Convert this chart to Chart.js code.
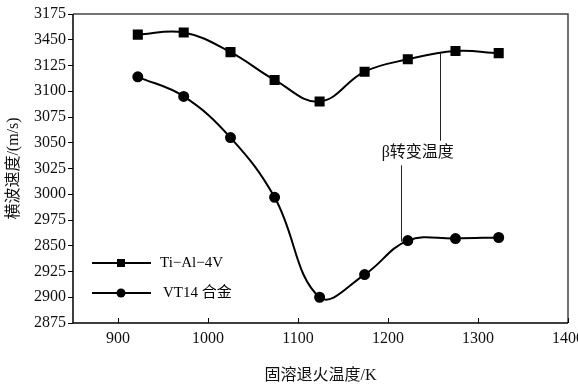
<!DOCTYPE html>
<html>
<head>
<meta charset="utf-8">
<script src="https://cdn.jsdelivr.net/npm/chart.js@4.4.1/dist/chart.umd.min.js"></script>
<style>
  html, body { margin: 0; padding: 0; background: #fff; overflow: hidden; }
  #wrap { width: 590px; height: 389px; position: relative; }
</style>
</head>
<body>
<div id="wrap"><canvas id="chart"></canvas></div>
<script>
// data
const temps = [922, 973, 1025, 1074, 1124, 1174, 1222, 1275, 1323];
const tiAl4V = [3155, 3157, 3138, 3111, 3090, 3119, 3131, 3139, 3137];
const vt14 = [3114, 3095, 3055, 2997, 2900, 2922, 2955, 2957, 2958];
const xTicks = [900, 1000, 1100, 1200, 1300, 1400];
const yTicks = [3175, 3150, 3125, 3100, 3075, 3050, 3025, 3000, 2975, 2950, 2925, 2900, 2875];
// tick text as printed in the original figure
const yTickText = ['3175', '3450', '3125', '3100', '3075', '3050', '3025', '3000', '2975', '2850', '2925', '2900', '2875'];
const seriesNames = ['Ti\u2212Al\u22124V', 'VT14 合金'];

const serif = "'Liberation Serif', 'Noto Sans CJK SC', serif";

// frame, inward x ticks, legend and the beta note
const extras = {
  id: 'extras',
  afterDraw(chart) {
    const ctx = chart.ctx;
    const a = chart.chartArea;
    const xs = chart.scales.x, ys = chart.scales.y;
    ctx.save();
    // top/right frame
    ctx.strokeStyle = '#444';
    ctx.lineWidth = 1.5;
    ctx.beginPath();
    ctx.moveTo(a.left, a.top); ctx.lineTo(a.right, a.top); ctx.lineTo(a.right, a.bottom);
    ctx.stroke();
    // left/bottom axes
    ctx.strokeStyle = '#000';
    ctx.lineWidth = 1.5;
    ctx.beginPath();
    ctx.moveTo(a.left, a.top); ctx.lineTo(a.left, a.bottom); ctx.lineTo(a.right, a.bottom);
    ctx.stroke();
    // x ticks pointing inward
    ctx.lineWidth = 1;
    xTicks.forEach(v => {
      const px = Math.round(xs.getPixelForValue(v)) + 0.5;
      ctx.beginPath(); ctx.moveTo(px, a.bottom); ctx.lineTo(px, a.bottom - 5); ctx.stroke();
    });

    // legend
    chart.data.datasets.forEach((ds, i) => {
      const y = 263 + i * 30;
      ctx.strokeStyle = '#000';
      ctx.lineWidth = 2;
      ctx.beginPath(); ctx.moveTo(92, y); ctx.lineTo(151, y); ctx.stroke();
      ctx.fillStyle = '#000';
      if (ds.pointStyle === 'rect') {
        ctx.fillRect(121 - 4, y - 4, 8, 8);
      } else {
        ctx.beginPath(); ctx.arc(121, y, 4.5, 0, Math.PI * 2); ctx.fill();
      }
      ctx.font = "15px " + serif;
      ctx.textBaseline = 'middle';
      ctx.textAlign = 'left';
      ctx.fillText(ds.label, 160 + i * 3, y);
    });

    // beta transus note
    ctx.strokeStyle = '#222';
    ctx.lineWidth = 1;
    const x1 = Math.round(xs.getPixelForValue(1258)) + 0.5;
    ctx.beginPath(); ctx.moveTo(x1, ys.getPixelForValue(3137)); ctx.lineTo(x1, ys.getPixelForValue(3052)); ctx.stroke();
    const x2 = Math.round(xs.getPixelForValue(1214)) + 0.5;
    ctx.beginPath(); ctx.moveTo(x2, ys.getPixelForValue(3028)); ctx.lineTo(x2, ys.getPixelForValue(2954)); ctx.stroke();
    ctx.fillStyle = '#111';
    ctx.font = "16px " + serif;
    ctx.textAlign = 'center';
    ctx.textBaseline = 'middle';
    ctx.fillText('β转变温度', xs.getPixelForValue(1233), ys.getPixelForValue(3040));
    ctx.restore();
  }
};

new Chart(document.getElementById('chart'), {
  type: 'line',
  data: {
    datasets: [
      {
        label: seriesNames[0],
        data: temps.map((t, i) => ({ x: t, y: tiAl4V[i] })),
        borderColor: '#000',
        backgroundColor: '#000',
        borderWidth: 2,
        pointStyle: 'rect',
        pointRadius: 5.7,
        tension: 0.4
      },
      {
        label: seriesNames[1],
        data: temps.map((t, i) => ({ x: t, y: vt14[i] })),
        borderColor: '#000',
        backgroundColor: '#000',
        borderWidth: 2,
        pointStyle: 'circle',
        pointRadius: 4.5,
        tension: 0.4
      }
    ]
  },
  options: {
    responsive: true,
    maintainAspectRatio: false,
    animation: false,
    layout: { padding: { top: 14, left: 0, right: 0, bottom: 0 } },
    plugins: { legend: { display: false }, tooltip: { enabled: false } },
    scales: {
      x: {
        type: 'linear',
        min: 850,
        max: 1400,
        afterBuildTicks: s => { s.ticks = xTicks.map(v => ({ value: v })); },
        afterFit: s => { s.height = 66; },
        grid: { display: false, drawTicks: false },
        border: { display: false },
        ticks: {
          color: '#111',
          font: { family: serif, size: 16 },
          padding: 6,
          maxRotation: 0,
          callback: v => String(v)
        },
        title: {
          display: true,
          text: '固溶退火温度/K',
          color: '#111',
          font: { family: serif, size: 16 },
          padding: { top: 20 }
        }
      },
      y: {
        min: 2875,
        max: 3175,
        afterBuildTicks: s => { s.ticks = yTicks.map(v => ({ value: v })); },
        afterFit: s => { s.width = 73; },
        grid: { drawOnChartArea: false, drawTicks: true, tickLength: 5, color: '#000' },
        border: { display: false },
        ticks: {
          color: '#111',
          font: { family: serif, size: 16 },
          padding: 2,
          callback: v => yTickText[yTicks.indexOf(v)]
        },
        title: {
          display: true,
          text: '横波速度/(m/s)',
          color: '#111',
          font: { family: serif, size: 16 },
          padding: { top: 4, bottom: 0 }
        }
      }
    }
  },
  plugins: [extras]
});
</script>
</body>
</html>
